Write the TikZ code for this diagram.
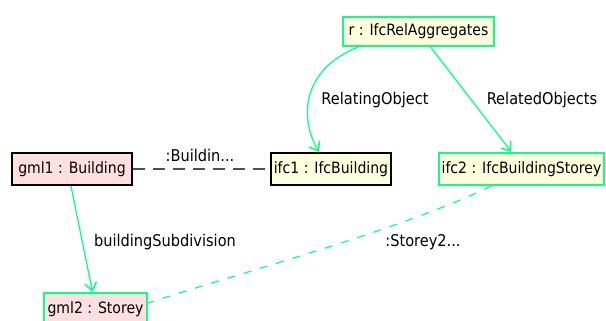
\documentclass[tikz,border=0pt]{standalone}
\usepackage{fontspec}
\setmainfont{DejaVu Sans Condensed}
\usetikzlibrary{arrows.meta}
\definecolor{linkgreen}{HTML}{0DFF86}
\definecolor{ifcfill}{HTML}{FFFFDD}
\definecolor{gmlfill}{HTML}{FFE0E0}
\definecolor{dashgray}{HTML}{505050}
\begin{document}
\begin{tikzpicture}[x=1pt,y=-1pt,
  every node/.style={font=\fontsize{16.2}{19}\selectfont},
  entity/.style={draw, line width=2pt, inner sep=0pt, minimum height=32pt, anchor=north west,
    font=\fontsize{15.6}{18}\selectfont},
  ifcbox/.style={entity, fill=ifcfill},
  gmlbox/.style={entity, fill=gmlfill},
  greenline/.style={draw=linkgreen, line width=1.3pt},
  rel/.style={greenline, -{Straight Barb[length=8pt,width=12pt,line width=1.6pt]}},
  lbl/.style={inner sep=1pt}]
\useasboundingbox (0,0) rectangle (606,321);

% entity boxes
\node[ifcbox, draw=linkgreen, minimum width=151pt, minimum height=29pt] (r) at (342,16) {r : IfcRelAggregates};
\node[gmlbox, minimum width=120pt] (gml1) at (11,152) {gml1 : Building};
\node[ifcbox, minimum width=120pt] (ifc1) at (270,152) {ifc1 : IfcBuilding};
\node[ifcbox, draw=linkgreen, minimum width=165pt] (ifc2) at (438,152) {ifc2 : IfcBuildingStorey};
\node[gmlbox, draw=linkgreen, minimum width=103pt] (gml2) at (43,292) {gml2 : Storey};

% aggregation links
\draw[rel] ([xshift=-60pt]r.south) .. controls (300,70) and (300,120) .. ([xshift=-12pt]ifc1.north);
\draw[rel] ([xshift=12pt]r.south) -- ([xshift=-10pt]ifc2.north);
\draw[rel] ([xshift=-1pt]gml1.south) -- ([xshift=-3pt]gml2.north);

% correspondence links
\draw[dashgray, line width=1.2pt, dash pattern=on 12pt off 8pt] (gml1.east) -- (ifc1.west);
\draw[linkgreen, line width=1.2pt, dash pattern=on 8pt off 9pt] ([xshift=-30pt]ifc2.south) .. controls (400,230) and (250,270) .. ([yshift=-11pt]gml2.north east);

% labels
\node[lbl] (l1) at (375,100) {RelatingObject};
\node[lbl] (l2) at (542,100) {RelatedObjects};
\node[lbl] (l3) at (200,155) {:Buildin...};
\node[lbl] (l4) at (165,242) {buildingSubdivision};
\node[lbl] (l5) at (423,242) {:Storey2...};
\end{tikzpicture}
\end{document}
